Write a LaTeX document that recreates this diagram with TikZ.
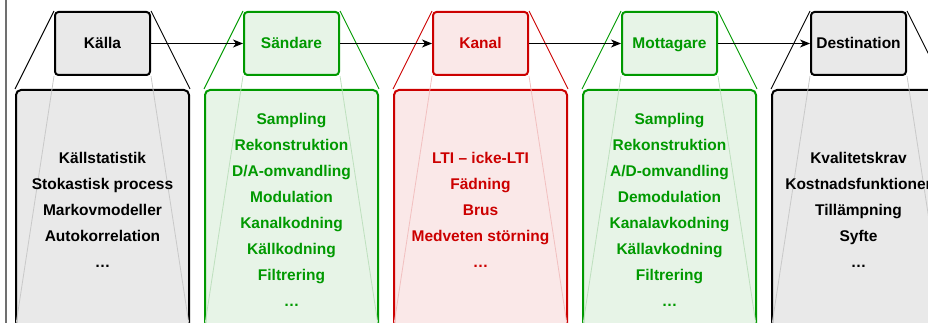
\documentclass[tikz,border=0pt]{standalone}
\usepackage{fontspec}
\setmainfont{Liberation Sans}
\usetikzlibrary{arrows.meta}

% stage colours
\definecolor{grayline}{HTML}{000000}
\definecolor{grayfill}{HTML}{E9E9E9}
\definecolor{graylight}{HTML}{C9C9C9}
\definecolor{greenline}{HTML}{009900}
\definecolor{greenfill}{HTML}{E7F4E7}
\definecolor{greenlight}{HTML}{BEE0BE}
\definecolor{redline}{HTML}{CC0000}
\definecolor{redfill}{HTML}{FAE8E8}
\definecolor{redlight}{HTML}{F2C0C0}
\definecolor{framegray}{HTML}{707070}

\tikzset{
  smallbox/.style={draw=#1line, fill=#1fill, line width=2pt, rounded corners=3.5pt,
    minimum width=95pt, minimum height=63pt, inner sep=0pt,
    text=#1line, font=\bfseries\fontsize{15.5}{18}\selectfont,
    text height=11pt, text depth=0pt},
  bigbox/.style={draw=#1line, fill=#1fill, line width=2pt, rounded corners=5pt,
    minimum width=173pt, minimum height=240pt, inner sep=0pt},
  zoomline/.style={draw=#1line, line width=0.9pt},
  innerline/.style={draw=#1light, line width=0.8pt},
  itemtext/.style={text=#1line, font=\bfseries\fontsize{15.5}{18}\selectfont,
    anchor=base, inner sep=0pt},
  flow/.style={draw=black, line width=1pt, -{Stealth[length=10pt,width=8pt,inset=3pt]}},
}

% #1 name, #2 x centre, #3 title, #4 colour set, #5 number of items, #6 items
\newcommand\stagebox[6]{%
  \node[bigbox=#4] (#1b) at (#2,210) {};
  \node[smallbox=#4] (#1s) at (#2,43.5) {#3};
  \draw[zoomline=#4] (#1s.north west) -- (#1b.north west);
  \draw[zoomline=#4] (#1s.north east) -- (#1b.north east);
  \draw[innerline=#4] (#1s.south west) -- (#1b.south west);
  \draw[innerline=#4] (#1s.south east) -- (#1b.south east);
  \foreach \t [count=\k] in {#6}{
    \node[itemtext=#4] (#1t\k) at (#2,{210+(\k-(#5+1)/2)*26+5.5}) {\t};
  }%
}

\begin{document}
\begin{tikzpicture}[x=1pt,y=-1pt]
  \useasboundingbox (0,0) rectangle (928,323);
  \clip (0,0) rectangle (928,323);

  % frame edge on the left
  \draw[framegray, line width=2pt] (6,-5) -- (6,330);

  \stagebox{src}{102.5}{Källa}{gray}{5}%
    {Källstatistik,Stokastisk process,Markovmodeller,Autokorrelation,…}
  \stagebox{tx}{291.5}{Sändare}{green}{8}%
    {Sampling,Rekonstruktion,D/A-omvandling,Modulation,Kanalkodning,Källkodning,Filtrering,…}
  \stagebox{ch}{480.5}{Kanal}{red}{5}%
    {LTI – icke-LTI,Fädning,Brus,Medveten störning,…}
  \stagebox{rx}{669.5}{Mottagare}{green}{8}%
    {Sampling,Rekonstruktion,A/D-omvandling,Demodulation,Kanalavkodning,Källavkodning,Filtrering,…}
  \stagebox{dst}{858.5}{Destination}{gray}{5}%
    {Kvalitetskrav,Kostnadsfunktioner,Tillämpning,Syfte,…}

  % signal chain
  \draw[flow] (srcs.east) -- (txs.west);
  \draw[flow] (txs.east) -- (chs.west);
  \draw[flow] (chs.east) -- (rxs.west);
  \draw[flow] (rxs.east) -- (dsts.west);
\end{tikzpicture}
\end{document}
